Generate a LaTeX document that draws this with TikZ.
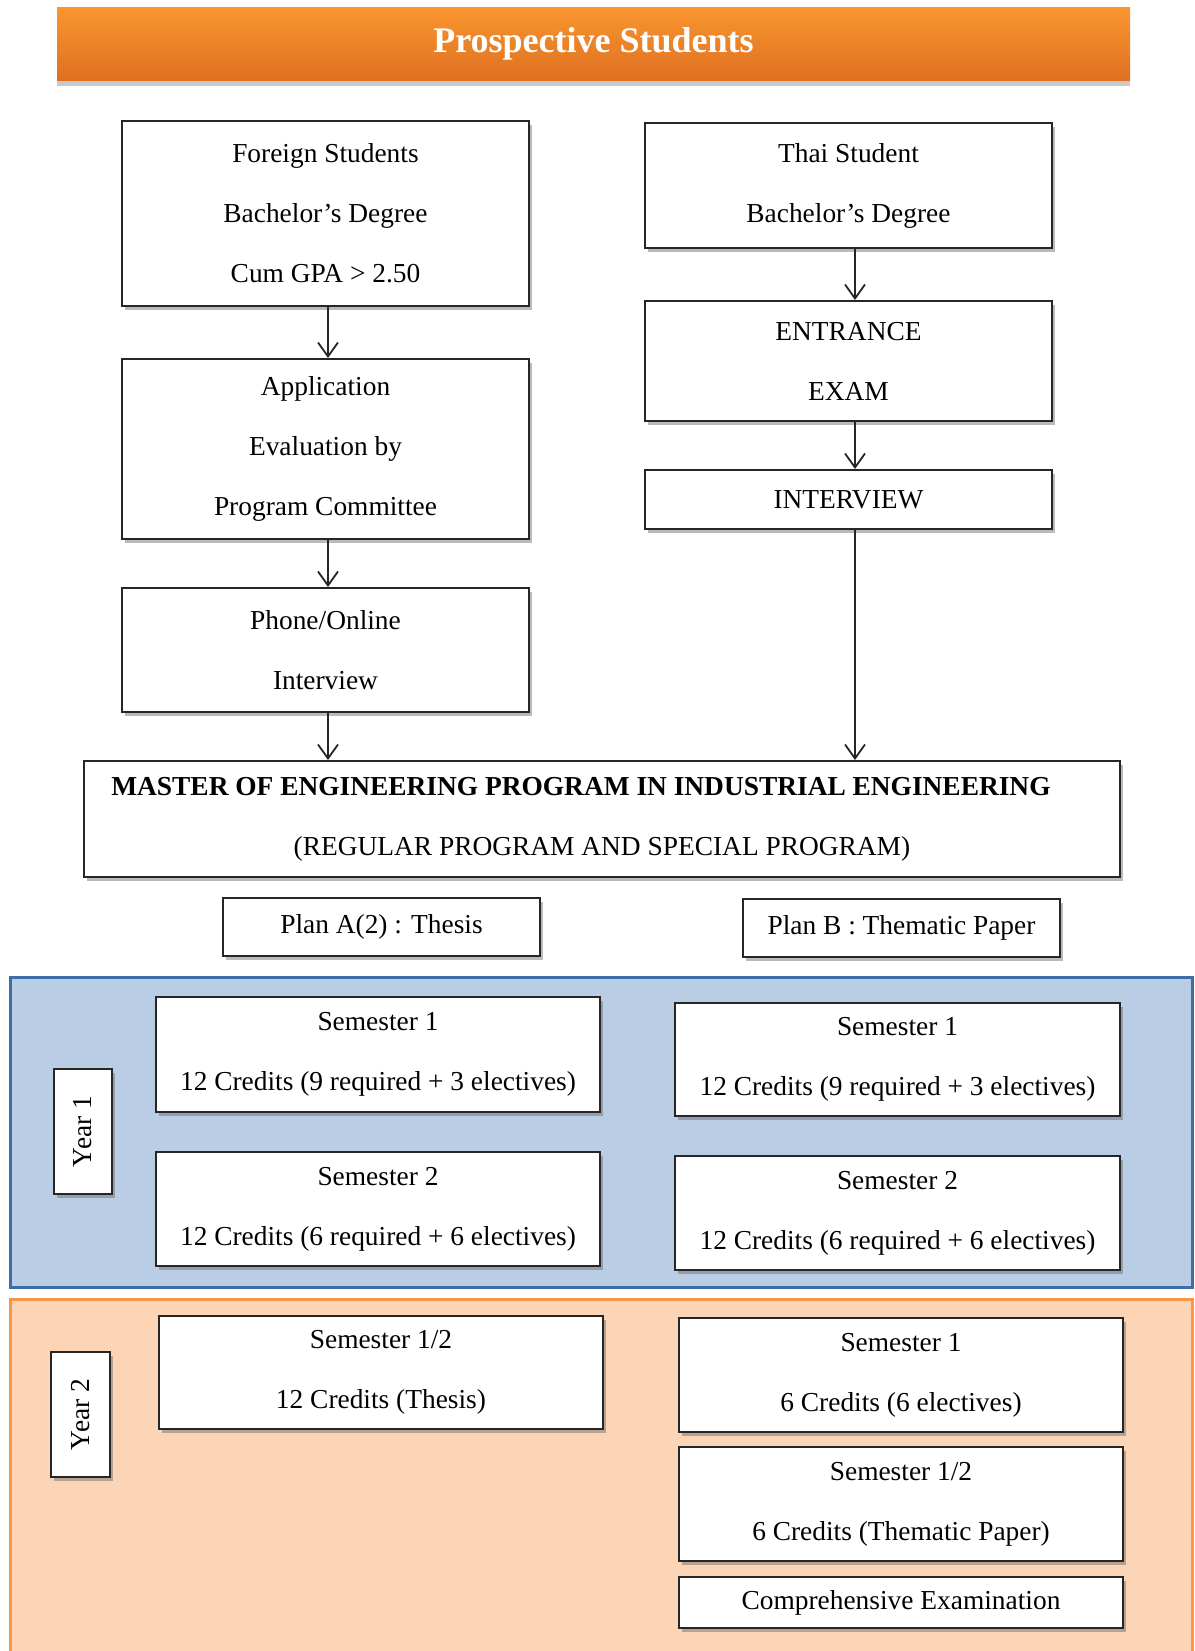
\documentclass[tikz,border=0pt]{standalone}
\usepackage{fontspec}
\setmainfont{Liberation Serif}
\usetikzlibrary{arrows.meta,shadows}
\definecolor{hdrtop}{RGB}{250,150,48}
\definecolor{hdrbot}{RGB}{222,112,32}
\definecolor{bluefill}{RGB}{185,205,229}
\definecolor{blueline}{RGB}{63,109,167}
\definecolor{orfill}{RGB}{251,213,181}
\definecolor{orline}{RGB}{247,150,70}
\tikzset{
  box/.style={draw=black!85, line width=1pt, fill=white, inner sep=0pt, align=center,
    font=\fontsize{13.7}{30}\selectfont,
    drop shadow={shadow xshift=1.5pt, shadow yshift=-2pt, opacity=0.45, fill=black!60}},
  hdr/.style={draw=none, top color=hdrtop, bottom color=hdrbot, text=white,
    font=\fontsize{18}{20}\selectfont\bfseries, inner sep=0pt,
    drop shadow={shadow xshift=0pt, shadow yshift=-3pt, opacity=0.35, fill=black!60}},
  arr/.style={line width=0.9pt, draw=black!85, -{Straight Barb[length=7pt,width=10pt,line width=0.9pt]}},
  bluepanel/.style={fill=bluefill, draw=blueline, line width=1.5pt},
  orpanel/.style={fill=orfill, draw=orline, line width=1.5pt}
}
\begin{document}
\begin{tikzpicture}[x=0.5pt, y=-0.5pt]
\useasboundingbox (0,0) rectangle (1195,1651);
\fill[white] (0,0) rectangle (1195,1651);

% header
\node[hdr, minimum width=536.5pt, minimum height=36.5pt] (hdr) at (593.5,43.5) {Prospective Students};

% left column
\node[box, minimum width=203.5pt, minimum height=92.5pt] (foreign) at (325.5,213.5)
  {Foreign Students\\Bachelor's Degree\\Cum GPA > 2.50};
\node[box, minimum width=203.5pt, minimum height=90pt] (app) at (325.5,449)
  {Application\\Evaluation by\\Program Committee};
\node[box, minimum width=203.5pt, minimum height=62pt] (phone) at (325.5,650)
  {Phone/Online\\Interview};

% right column
\node[box, minimum width=203.5pt, minimum height=62.5pt] (thai) at (848.5,185.5)
  {Thai Student\\Bachelor's Degree};
\node[box, minimum width=203.5pt, minimum height=60pt] (entrance) at (848.5,361)
  {ENTRANCE\\EXAM};
\node[box, minimum width=203.5pt, minimum height=29.5pt] (interview) at (848.5,499.5)
  {INTERVIEW};

% master
\node[box, minimum width=518pt, minimum height=58pt] (master) at (602,819)
  {\textbf{MASTER OF ENGINEERING PROGRAM IN INDUSTRIAL ENGINEERING}\kern21pt\\(REGULAR PROGRAM AND SPECIAL PROGRAM)};

% plans
\node[box, minimum width=158.5pt, minimum height=29pt] (planA) at (381.5,927) {Plan A(2) : Thesis};
\node[box, minimum width=158.5pt, minimum height=29pt] (planB) at (901.5,928) {Plan B : Thematic Paper};

% connectors
\coordinate (lx) at (328,0);
\coordinate (rx) at (855,0);
\draw[arr] (foreign.south -| lx) -- (app.north -| lx);
\draw[arr] (app.south -| lx) -- (phone.north -| lx);
\draw[arr] (phone.south -| lx) -- (master.north -| lx);
\draw[arr] (thai.south -| rx) -- (entrance.north -| rx);
\draw[arr] (entrance.south -| rx) -- (interview.north -| rx);
\draw[arr] (interview.south -| rx) -- (master.north -| rx);

% year 1 panel
\draw[bluepanel] (10,977) rectangle (1192,1287);
\node[box, minimum width=29pt, minimum height=62.5pt] (y1) at (83,1131.5) {\rotatebox{90}{Year 1}};
\node[box, minimum width=222pt, minimum height=57.5pt] (y1s1a) at (378,1054.5)
  {Semester 1\\12 Credits (9 required + 3 electives)};
\node[box, minimum width=222pt, minimum height=57pt] (y1s2a) at (378,1209)
  {Semester 2\\12 Credits (6 required + 6 electives)};
\node[box, minimum width=222.5pt, minimum height=56.5pt] (y1s1b) at (897.5,1059.5)
  {Semester 1\\12 Credits (9 required + 3 electives)};
\node[box, minimum width=222.5pt, minimum height=57pt] (y1s2b) at (897.5,1213)
  {Semester 2\\12 Credits (6 required + 6 electives)};

% year 2 panel
\draw[orpanel] (10,1299) rectangle (1192,1652);
\node[box, minimum width=29.5pt, minimum height=62.5pt] (y2) at (80.5,1414.5) {\rotatebox{90}{Year 2}};
\node[box, minimum width=222pt, minimum height=56.5pt] (y2s12a) at (381,1372.5)
  {Semester 1/2\\12 Credits (Thesis)};
\node[box, minimum width=222pt, minimum height=57pt] (y2s1b) at (901,1375)
  {Semester 1\\6 Credits (6 electives)};
\node[box, minimum width=222pt, minimum height=57pt] (y2s12b) at (901,1504)
  {Semester 1/2\\6 Credits (Thematic Paper)};
\node[box, minimum width=222pt, minimum height=25.5pt] (comp) at (901,1602.5)
  {Comprehensive Examination};
\end{tikzpicture}
\end{document}
